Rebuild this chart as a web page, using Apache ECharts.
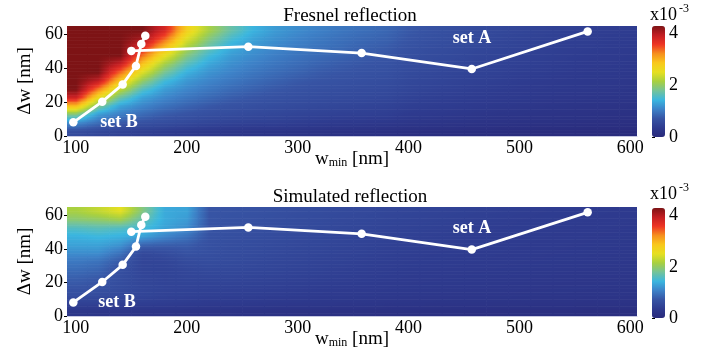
<!DOCTYPE html>
<html>
<head>
<meta charset="utf-8">
<script src="https://cdn.jsdelivr.net/npm/echarts@6/dist/echarts.min.js"></script>
<style>
html, body { margin: 0; padding: 0; background: #fff; }
#chart { width: 714px; height: 352px; }
</style>
</head>
<body>
<div id="chart"></div>
<script>
// cell centres of the two maps (nm)
const wCenters = [100, 120, 140, 160, 180, 200, 220, 240, 260, 280, 300, 320, 340, 360, 380, 400, 420, 440, 460, 480, 500, 520, 540, 560, 580, 600];
const dwCenters = [62.5, 57.5, 52.5, 47.5, 42.5, 37.5, 32.5, 27.5, 22.5, 17.5, 12.5, 7.5, 2.5];

// reflection in units of 1e-3, one row per dwCenters entry
const fresnelGrid = [
    [4.3, 4.3, 4.3, 4.3, 3.8, 2.75, 2.14, 1.72, 1.41, 1.24, 1.14, 1.06, 0.98, 0.92, 0.86, 0.75, 0.68, 0.63, 0.58, 0.54, 0.50, 0.47, 0.43, 0.41, 0.39, 0.37],
    [4.3, 4.3, 4.3, 4.1, 3.4, 2.47, 1.92, 1.53, 1.30, 1.17, 1.08, 1.00, 0.93, 0.87, 0.82, 0.72, 0.66, 0.61, 0.56, 0.52, 0.48, 0.45, 0.42, 0.40, 0.37, 0.36],
    [4.3, 4.3, 4.3, 3.75, 2.95, 2.17, 1.70, 1.37, 1.21, 1.11, 1.02, 0.95, 0.89, 0.82, 0.77, 0.68, 0.62, 0.58, 0.54, 0.50, 0.47, 0.44, 0.40, 0.39, 0.36, 0.34],
    [4.3, 4.3, 4.3, 3.35, 2.55, 1.90, 1.49, 1.25, 1.14, 1.04, 0.96, 0.89, 0.83, 0.77, 0.73, 0.64, 0.59, 0.56, 0.51, 0.48, 0.44, 0.42, 0.39, 0.36, 0.34, 0.32],
    [4.3, 4.3, 3.9, 2.88, 2.13, 1.63, 1.32, 1.16, 1.06, 0.97, 0.90, 0.83, 0.77, 0.72, 0.69, 0.61, 0.57, 0.53, 0.49, 0.46, 0.43, 0.40, 0.37, 0.34, 0.33, 0.30],
    [4.3, 4.3, 3.36, 2.45, 1.81, 1.39, 1.19, 1.08, 0.98, 0.90, 0.83, 0.76, 0.72, 0.68, 0.65, 0.58, 0.54, 0.50, 0.47, 0.44, 0.40, 0.38, 0.35, 0.32, 0.31, 0.29],
    [4.3, 3.94, 2.83, 2.01, 1.49, 1.22, 1.09, 0.99, 0.90, 0.82, 0.75, 0.71, 0.67, 0.64, 0.61, 0.54, 0.51, 0.47, 0.44, 0.41, 0.37, 0.35, 0.32, 0.30, 0.29, 0.27],
    [4.3, 3.29, 2.27, 1.60, 1.25, 1.10, 0.99, 0.89, 0.81, 0.74, 0.69, 0.65, 0.62, 0.59, 0.57, 0.51, 0.47, 0.44, 0.40, 0.37, 0.34, 0.32, 0.30, 0.29, 0.27, 0.24],
    [3.85, 2.58, 1.72, 1.28, 1.10, 0.97, 0.87, 0.78, 0.72, 0.67, 0.63, 0.60, 0.57, 0.55, 0.52, 0.46, 0.42, 0.39, 0.37, 0.34, 0.32, 0.29, 0.27, 0.25, 0.23, 0.22],
    [2.90, 1.83, 1.28, 1.09, 0.94, 0.83, 0.74, 0.68, 0.64, 0.60, 0.57, 0.54, 0.51, 0.48, 0.46, 0.41, 0.38, 0.36, 0.33, 0.30, 0.27, 0.25, 0.23, 0.21, 0.20, 0.18],
    [1.85, 1.24, 1.03, 0.88, 0.76, 0.69, 0.63, 0.59, 0.55, 0.52, 0.48, 0.46, 0.43, 0.42, 0.40, 0.34, 0.32, 0.29, 0.26, 0.23, 0.22, 0.20, 0.19, 0.18, 0.16, 0.15],
    [1.12, 0.90, 0.75, 0.66, 0.60, 0.55, 0.50, 0.46, 0.43, 0.42, 0.38, 0.35, 0.32, 0.30, 0.28, 0.25, 0.23, 0.21, 0.19, 0.18, 0.16, 0.16, 0.14, 0.13, 0.12, 0.11],
    [0.60, 0.52, 0.45, 0.40, 0.35, 0.31, 0.28, 0.25, 0.23, 0.21, 0.20, 0.18, 0.16, 0.15, 0.13, 0.11, 0.10, 0.09, 0.08, 0.07, 0.06, 0.05, 0.05, 0.04, 0.04, 0.03]
];

const simulatedGrid = [
    [2.15, 2.3, 2.5, 1.9, 1.35, 1.3, 0.72, 0.70, 0.68, 0.65, 0.62, 0.60, 0.57, 0.55, 0.52, 0.50, 0.48, 0.46, 0.44, 0.42, 0.40, 0.38, 0.37, 0.36, 0.35, 0.34],
    [1.95, 2.0, 2.1, 1.7, 1.35, 1.25, 0.72, 0.68, 0.66, 0.63, 0.60, 0.58, 0.55, 0.53, 0.50, 0.48, 0.46, 0.44, 0.42, 0.40, 0.38, 0.37, 0.36, 0.35, 0.34, 0.33],
    [1.6, 1.65, 1.6, 1.5, 1.3, 1.15, 0.70, 0.66, 0.64, 0.61, 0.58, 0.56, 0.53, 0.51, 0.48, 0.46, 0.44, 0.42, 0.40, 0.38, 0.37, 0.36, 0.35, 0.34, 0.33, 0.32],
    [1.4, 1.45, 1.4, 1.3, 1.1, 0.95, 0.68, 0.64, 0.62, 0.59, 0.56, 0.54, 0.51, 0.49, 0.46, 0.44, 0.42, 0.40, 0.38, 0.37, 0.36, 0.35, 0.34, 0.33, 0.32, 0.31],
    [1.3, 1.3, 1.2, 0.85, 0.8, 0.78, 0.66, 0.62, 0.60, 0.57, 0.54, 0.52, 0.49, 0.47, 0.44, 0.42, 0.40, 0.38, 0.37, 0.36, 0.35, 0.34, 0.33, 0.32, 0.31, 0.30],
    [1.15, 1.15, 0.95, 0.55, 0.6, 0.68, 0.64, 0.60, 0.58, 0.55, 0.52, 0.50, 0.47, 0.45, 0.42, 0.40, 0.38, 0.37, 0.36, 0.35, 0.34, 0.33, 0.32, 0.31, 0.30, 0.29],
    [1.0, 0.95, 0.75, 0.5, 0.5, 0.58, 0.60, 0.58, 0.55, 0.52, 0.50, 0.47, 0.45, 0.42, 0.40, 0.38, 0.37, 0.36, 0.35, 0.34, 0.33, 0.32, 0.31, 0.30, 0.29, 0.28],
    [0.9, 0.85, 0.65, 0.5, 0.48, 0.52, 0.55, 0.54, 0.52, 0.50, 0.47, 0.45, 0.42, 0.40, 0.38, 0.36, 0.35, 0.34, 0.33, 0.32, 0.31, 0.30, 0.29, 0.28, 0.27, 0.27],
    [0.8, 0.75, 0.62, 0.52, 0.48, 0.5, 0.5, 0.5, 0.48, 0.46, 0.44, 0.42, 0.40, 0.38, 0.36, 0.34, 0.33, 0.32, 0.31, 0.30, 0.29, 0.28, 0.27, 0.26, 0.26, 0.25],
    [0.72, 0.68, 0.6, 0.52, 0.48, 0.47, 0.46, 0.45, 0.44, 0.42, 0.40, 0.38, 0.36, 0.35, 0.33, 0.32, 0.31, 0.30, 0.29, 0.28, 0.27, 0.26, 0.25, 0.25, 0.24, 0.24],
    [0.62, 0.6, 0.55, 0.5, 0.46, 0.44, 0.42, 0.41, 0.40, 0.38, 0.36, 0.34, 0.33, 0.32, 0.30, 0.29, 0.28, 0.27, 0.26, 0.26, 0.25, 0.24, 0.24, 0.23, 0.23, 0.22],
    [0.45, 0.44, 0.42, 0.4, 0.38, 0.36, 0.34, 0.33, 0.32, 0.30, 0.29, 0.28, 0.27, 0.26, 0.25, 0.24, 0.23, 0.22, 0.22, 0.21, 0.21, 0.20, 0.20, 0.19, 0.19, 0.18],
    [0.25, 0.24, 0.23, 0.22, 0.21, 0.2, 0.19, 0.18, 0.17, 0.16, 0.15, 0.15, 0.14, 0.14, 0.13, 0.13, 0.12, 0.12, 0.11, 0.11, 0.10, 0.10, 0.10, 0.09, 0.09, 0.09]
];

// the two measurement sets
const setAW = [150, 255.5, 357.7, 457, 561.5];
const setADw = [50.3, 52.8, 49, 39.6, 61.8];
const setBW = [97.7, 123.8, 142.2, 154.2, 159, 162.6];
const setBDw = [8.1, 20.3, 30.5, 41.4, 54.3, 59.2];

const wTicks = [100, 200, 300, 400, 500, 600];
const dwTicks = [0, 20, 40, 60];
const cbTicks = [0, 2, 4];

const serif = '"Liberation Serif", "Times New Roman", serif';
const vMax = 4.3;
const jet = ['#292a7b', '#2e3b8f', '#3754a4', '#3d82c8', '#3ab6e0', '#74c39a', '#a8d040',
             '#e6e020', '#f9c81c', '#f6901e', '#ee3524', '#c31e23', '#7d1315'];

const nCols = wCenters.length, nRows = dwCenters.length;
const cw = wCenters[1] - wCenters[0];
const ch = dwCenters[0] - dwCenters[1];
const STRIPS = 6;

function toCells(grid) {
    const out = [];
    grid.forEach(function (row, i) {
        row.forEach(function (v, j) {
            out.push([wCenters[j], dwCenters[i], v]);
        });
    });
    return out;
}

function pairs(xs, ys) {
    return xs.map(function (x, i) { return [x, ys[i]]; });
}

function clamp(k, n) { return Math.max(0, Math.min(n - 1, k)); }

function colorOf(v) {
    return echarts.color.lerp(Math.max(0, Math.min(1, v / vMax)), jet);
}

// each cell is drawn as thin strips shaded towards its neighbours so the map looks continuous
function cellRenderer(grid) {
    return function (params, api) {
        const i = Math.floor(params.dataIndex / nCols), j = params.dataIndex % nCols;
        const x = api.value(0), y = api.value(1);
        const children = [];
        for (let k = 0; k < STRIPS; k++) {
            const yTop = y + ch / 2 - k * ch / STRIPS;
            const yBot = yTop - ch / STRIPS;
            const t = ((yTop + yBot) / 2 - y) / ch;
            const ni = clamp(t > 0 ? i - 1 : i + 1, nRows);
            const f = Math.abs(t);
            const at = function (jj) {
                jj = clamp(jj, nCols);
                return grid[i][jj] + (grid[ni][jj] - grid[i][jj]) * f;
            };
            const vc = at(j), vl = at(j - 1), vr = at(j + 1);
            const stops = [0, 0.25, 0.5, 0.75, 1].map(function (o) {
                const s = o - 0.5;
                const v = s < 0 ? vc + (vl - vc) * (-s) : vc + (vr - vc) * s;
                return { offset: o, color: colorOf(v) };
            });
            const a = api.coord([x - cw / 2, yTop]);
            const b = api.coord([x + cw / 2, yBot]);
            children.push({
                type: 'rect',
                shape: { x: a[0], y: a[1], width: b[0] - a[0] + 0.6, height: b[1] - a[1] + 0.6 },
                style: { fill: new echarts.graphic.LinearGradient(0, 0, 1, 0, stops) }
            });
        }
        return { type: 'group', children: children };
    };
}

function plotX(idx) {
    return {
        type: 'value', gridIndex: idx, min: 92, max: 606,
        axisLine: { show: true, lineStyle: { color: '#c6c8e2', width: 1 } },
        axisTick: { show: false }, splitLine: { show: false },
        axisLabel: { customValues: wTicks, color: '#000', fontFamily: serif, fontSize: 18, margin: 3 },
        name: 'w{s|min} [nm]', nameLocation: 'middle', nameGap: 13, nameMoveOverlap: false,
        nameTextStyle: {
            color: '#000', fontFamily: serif, fontSize: 19,
            rich: { s: { fontSize: 12, fontFamily: serif, color: '#000', padding: [8, 0, 0, 0] } }
        }
    };
}

function plotY(idx) {
    return {
        type: 'value', gridIndex: idx, min: 0, max: 65,
        axisLine: { show: false }, splitLine: { show: false },
        axisTick: { show: true, customValues: dwTicks, length: 3, lineStyle: { color: '#000' } },
        axisLabel: { customValues: dwTicks, color: '#000', fontFamily: serif, fontSize: 18, margin: 4 },
        name: 'Δw [nm]', nameLocation: 'middle', nameGap: 32, nameRotate: 90, nameMoveOverlap: false,
        nameTextStyle: { color: '#000', fontFamily: serif, fontSize: 19 }
    };
}

function barY(idx) {
    return {
        type: 'value', gridIndex: idx, position: 'right', min: 0, max: vMax,
        axisLine: { show: false }, splitLine: { show: false },
        axisTick: { show: true, customValues: cbTicks, length: 3, lineStyle: { color: '#000' } },
        axisLabel: { customValues: cbTicks, color: '#000', fontFamily: serif, fontSize: 18, margin: 4 }
    };
}

function setLine(name, xs, ys, idx) {
    return {
        name: name, type: 'line', xAxisIndex: idx, yAxisIndex: idx,
        data: pairs(xs, ys), z: 5, silent: true,
        symbol: 'circle', symbolSize: 8.5,
        lineStyle: { color: '#fff', width: 2.8 },
        itemStyle: { color: '#fff' }
    };
}

function txt(text, x, y, size, opts) {
    return {
        type: 'text', x: x, y: y, silent: true, z: 100,
        style: Object.assign({
            text: text, fill: '#000', font: size + 'px ' + serif,
            textAlign: 'center', textVerticalAlign: 'middle'
        }, opts || {})
    };
}

const boldWhite = { fill: '#fff', font: 'bold 18px ' + serif };

const chart = echarts.init(document.getElementById('chart'));
chart.setOption({
    animation: false,
    grid: [
        { left: 67, top: 26, width: 570, height: 110 },
        { left: 67, top: 207, width: 570, height: 109 },
        { left: 652, top: 26, width: 13, height: 111 },
        { left: 652, top: 208, width: 13, height: 110 }
    ],
    xAxis: [plotX(0), plotX(1),
        { type: 'value', gridIndex: 2, show: false, min: 0, max: 1 },
        { type: 'value', gridIndex: 3, show: false, min: 0, max: 1 }],
    yAxis: [plotY(0), plotY(1), barY(2), barY(3)],
    visualMap: [
        { type: 'continuous', min: 0, max: vMax, dimension: 2, seriesIndex: 0,
          orient: 'vertical', left: 652, top: 26, itemWidth: 13, itemHeight: 111,
          calculable: false, hoverLink: false, padding: 0, inRange: { color: jet } },
        { type: 'continuous', min: 0, max: vMax, dimension: 2, seriesIndex: 1,
          orient: 'vertical', left: 652, top: 208, itemWidth: 13, itemHeight: 110,
          calculable: false, hoverLink: false, padding: 0, inRange: { color: jet } }
    ],
    series: [
        { name: 'Fresnel', type: 'custom', xAxisIndex: 0, yAxisIndex: 0, clip: true,
          renderItem: cellRenderer(fresnelGrid), encode: { x: 0, y: 1 }, data: toCells(fresnelGrid), silent: true },
        { name: 'Simulated', type: 'custom', xAxisIndex: 1, yAxisIndex: 1, clip: true,
          renderItem: cellRenderer(simulatedGrid), encode: { x: 0, y: 1 }, data: toCells(simulatedGrid), silent: true },
        setLine('set A', setAW, setADw, 0),
        setLine('set B', setBW, setBDw, 0),
        setLine('set A', setAW, setADw, 1),
        setLine('set B', setBW, setBDw, 1)
    ],
    graphic: [
        txt('Fresnel reflection', 350, 16, 19),
        txt('Simulated reflection', 350, 197, 19),
        txt('set A', 472, 38, 18, boldWhite),
        txt('set B', 119, 122, 18, boldWhite),
        txt('set A', 472, 228, 18, boldWhite),
        txt('set B', 117, 302, 18, boldWhite),
        txt('x10', 650, 15, 18, { textAlign: 'left' }),
        txt('-3', 679, 9, 12, { textAlign: 'left' }),
        txt('x10', 650, 194, 18, { textAlign: 'left' }),
        txt('-3', 679, 188, 12, { textAlign: 'left' })
    ]
});
</script>
</body>
</html>
